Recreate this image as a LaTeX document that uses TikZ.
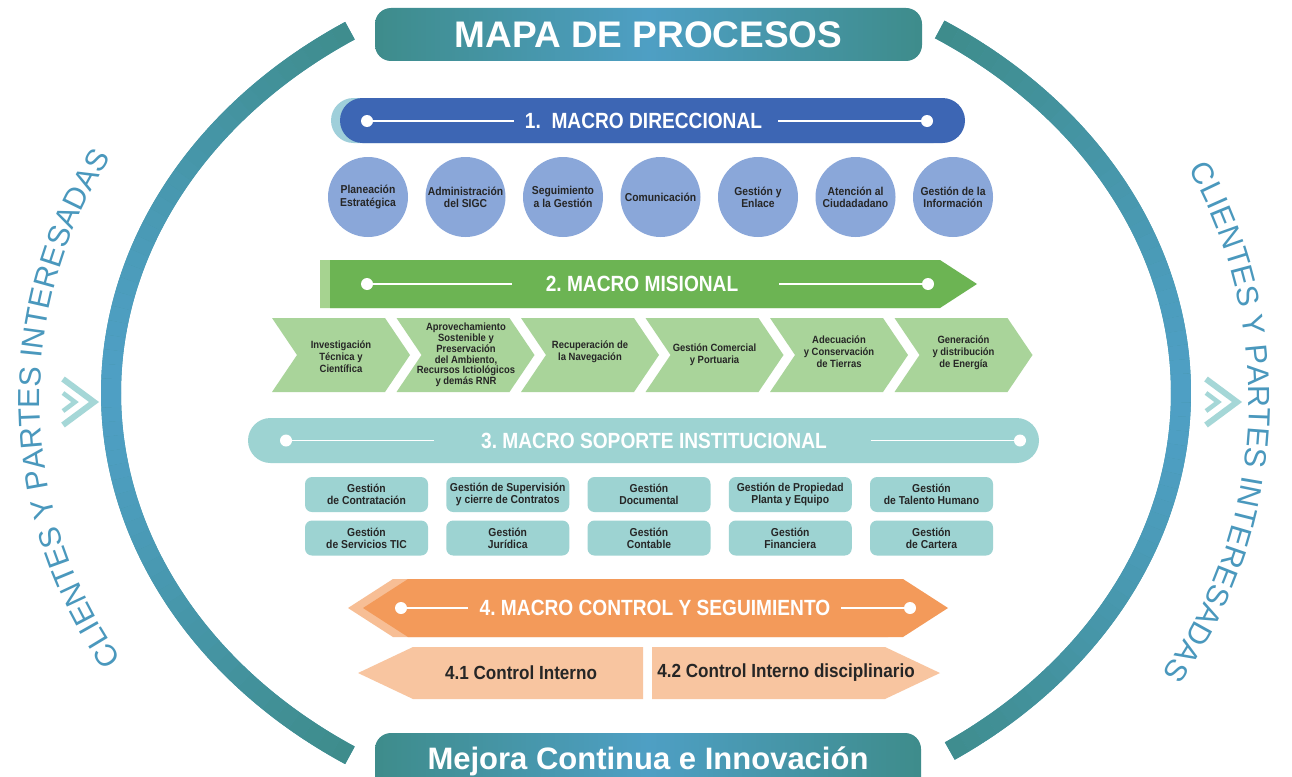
\documentclass[tikz,border=0pt]{standalone}
\usepackage{fontspec}
\setmainfont{Liberation Sans}
\newfontfamily\cond{Liberation Sans}[FakeStretch=0.9]
\newfontfamily\condb{Liberation Sans}[FakeStretch=0.87]
\usetikzlibrary{decorations.text,shapes.misc}
\definecolor{tealD}{HTML}{3E8C8B}
\definecolor{blueM}{HTML}{4E9FC4}
\definecolor{sidecol}{HTML}{4A98BD}
\definecolor{mOneBlue}{HTML}{3D66B4}
\definecolor{mOneLight}{HTML}{9FCFDA}
\definecolor{circ}{HTML}{8AA7D9}
\definecolor{mTwoGreen}{HTML}{6CB453}
\definecolor{mTwoLight}{HTML}{A6D390}
\definecolor{chev}{HTML}{A9D49A}
\definecolor{mThree}{HTML}{9DD3D2}
\definecolor{mFour}{HTML}{F39A5A}
\definecolor{mFourLight}{HTML}{F7BE95}
\definecolor{peach}{HTML}{F8C5A0}
\definecolor{symc}{HTML}{A5D7D7}
\definecolor{ink}{HTML}{262626}
\begin{document}
\begin{tikzpicture}[x=1pt,y=-1pt,
  bigbox/.style={rounded corners=16pt, left color=tealD, right color=tealD, middle color=blueM,
     text=white, inner sep=0pt},
  bartext/.style={font=\condb\bfseries\frenchspacing\fontsize{22}{24}\selectfont, text=white, inner sep=0pt},
  wdot/.style={circle, fill=white, minimum size=12pt, inner sep=0pt},
  wline/.style={white, line width=1.8pt},
  proc/.style={circle, fill=circ, minimum size=80pt, inner sep=0pt, align=center, text=ink,
     font=\cond\bfseries\fontsize{11.5}{12.3}\selectfont},
  chevtext/.style={align=center, text=ink, inner sep=0pt, font=\cond\bfseries\fontsize{10.5}{12}\selectfont},
  supbox/.style={rectangle, rounded corners=7pt, fill=mThree, minimum width=123pt, minimum height=35pt,
     inner sep=0pt, align=center, text=ink, font=\cond\bfseries\fontsize{11.5}{12}\selectfont},
  ctrltext/.style={text=ink, inner sep=0pt, font=\cond\bfseries\fontsize{19}{21}\selectfont},
  symline/.style={symc, line width=6pt, miter limit=10},
  sidetext/.style={decorate, decoration={text along path, text align=center,
     text={|\fontsize{30.5}{31}\selectfont\color{sidecol}|CLIENTES Y PARTES INTERESADAS}}}
]
\useasboundingbox (0,0) rectangle (1292,776);
\fill[white] (0,0) rectangle (1292,776);

% ---------- big arcs ----------
\draw[line width=20pt, draw=tealD!50!blueM] (646,393) ++(123.6:535 and 435) arc[start angle=123.6, end angle=236.4, x radius=535, y radius=435];
\foreach \i in {0,...,59} {
  \pgfmathsetmacro\a{123.6+\i*1.88}
  \pgfmathtruncatemacro\f{100*min(1,(abs(sin(\a))/0.84)^1.6)}
  \draw[line width=20pt, draw=tealD!\f!blueM] (646,393) ++(\a:535 and 435) arc[start angle=\a, end angle=\a+1.88, x radius=535, y radius=435];
}
\draw[line width=20pt, draw=tealD!50!blueM] (646,393) ++(-56.7:535 and 435) arc[start angle=-56.7, end angle=55.4, x radius=535, y radius=435];
\foreach \i in {0,...,59} {
  \pgfmathsetmacro\a{-56.7+\i*1.8683}
  \pgfmathtruncatemacro\f{100*min(1,(abs(sin(\a))/0.84)^1.6)}
  \draw[line width=20pt, draw=tealD!\f!blueM] (646,393) ++(\a:535 and 435) arc[start angle=\a, end angle=\a+1.8683, x radius=535, y radius=435];
}

% ---------- side texts ----------
\path[sidetext] (491,400) ++(143.5:451) arc[start angle=143.5, end angle=214, radius=451];
\path[sidetext] (776,400) ++(-30:473) arc[start angle=-30, end angle=36, radius=473];

% ---------- side chevron symbols ----------
\draw[symline] (63,379) -- (94,402) -- (63,425);
\draw[symline, line width=4.5pt] (63,393) -- (75,402) -- (63,411);
\draw[symline] (1206,379) -- (1237,402) -- (1206,425);
\draw[symline, line width=4.5pt] (1206,393) -- (1218,402) -- (1206,411);

% ---------- title and bottom ----------
\node[bigbox, minimum width=547pt, minimum height=53pt,
      font=\bfseries\fontsize{37}{40}\selectfont] (title) at (648.5,34.5) {MAPA DE PROCESOS};
\node[bigbox, anchor=base, minimum width=546pt, text height=36pt, text depth=26pt,
      font=\bfseries\fontsize{31}{34}\selectfont] (bottom) at (648,769) {Mejora Continua e Innovación};

% ---------- 1. MACRO DIRECCIONAL ----------
\node[rounded rectangle, fill=mOneLight, minimum width=625pt, minimum height=45pt, inner sep=0pt] (m1b) at (643.5,120.5) {};
\node[rounded rectangle, fill=mOneBlue, minimum width=625pt, minimum height=45pt, inner sep=0pt] (m1) at (652.5,120.5) {};
\node[bartext] (m1t) at (643.5,121) {1.\ \ MACRO DIRECCIONAL};
\node[wdot] (m1dl) at (367,121) {};
\node[wdot] (m1dr) at (927,121) {};
\coordinate (m1el) at (514,121);
\coordinate (m1er) at (778,121);
\draw[wline] (m1dl) -- (m1el);
\draw[wline] (m1er) -- (m1dr);

\node[proc] (c1) at (368,197) {Planeación\\Estratégica};
\node[proc] (c2) at (465.5,197) {Administración\\del SIGC};
\node[proc] (c3) at (563,197) {Seguimiento\\a la Gestión};
\node[proc] (c4) at (660.5,197) {Comunicación};
\node[proc] (c5) at (758,197) {Gestión y\\Enlace};
\node[proc] (c6) at (855.5,197) {Atención al\\Ciudadadano};
\node[proc] (c7) at (953,197) {Gestión de la\\Información};

% ---------- 2. MACRO MISIONAL ----------
\fill[mTwoLight] (320,260) -- (930,260) -- (967,284) -- (930,308) -- (320,308) -- cycle;
\fill[mTwoGreen] (330,260) -- (940,260) -- (977,284) -- (940,308) -- (330,308) -- cycle;
\node[bartext] (m2t) at (642,284) {2. MACRO MISIONAL};
\node[wdot] (m2dl) at (367,284) {};
\node[wdot] (m2dr) at (928,284) {};
\coordinate (m2el) at (512,284);
\coordinate (m2er) at (779,284);
\draw[wline] (m2dl) -- (m2el);
\draw[wline] (m2er) -- (m2dr);

\foreach \i in {0,...,5} {
  \pgfmathsetmacro\x{272+124.5*\i}
  \fill[chev] (\x,318) -- ++(113,0) -- ++(25,37) -- ++(-25,37) -- ++(-113,0) -- ++(25,-37) -- cycle;
}
\node[chevtext] (p1) at (341,357) {Investigación\\Técnica y\\Científica};
\node[chevtext, font=\cond\bfseries\fontsize{10.5}{10.7}\selectfont] (p2) at (466,355) {Aprovechamiento\\Sostenible y\\Preservación\\del Ambiento,\\Recursos Ictiológicos\\y demás RNR};
\node[chevtext] (p3) at (590,352) {Recuperación de\\la Navegación};
\node[chevtext] (p4) at (714.5,355) {Gestión Comercial\\y Portuaria};
\node[chevtext] (p5) at (839,352) {Adecuación\\y Conservación\\de Tierras};
\node[chevtext] (p6) at (963.5,353) {Generación\\y distribución\\de Energía};

% ---------- 3. MACRO SOPORTE INSTITUCIONAL ----------
\node[rounded rectangle, fill=mThree, minimum width=791pt, minimum height=45pt, inner sep=0pt] (m3) at (643.5,440.5) {};
\node[bartext] (m3t) at (654,440.5) {3. MACRO SOPORTE INSTITUCIONAL};
\node[wdot] (m3dl) at (286,440.5) {};
\node[wdot] (m3dr) at (1020,440.5) {};
\coordinate (m3el) at (434,440.5);
\coordinate (m3er) at (871,440.5);
\draw[wline] (m3dl) -- (m3el);
\draw[wline] (m3er) -- (m3dr);

\node[supbox] (s11) at (366.5,494.5) {Gestión\\de Contratación};
\node[supbox] (s12) at (507.75,494.5) {Gestión de Supervisión\\y cierre de Contratos};
\node[supbox] (s13) at (649,494.5) {Gestión\\Documental};
\node[supbox] (s14) at (790.25,494.5) {Gestión de Propiedad\\Planta y Equipo};
\node[supbox] (s15) at (931.5,494.5) {Gestión\\de Talento Humano};
\node[supbox] (s21) at (366.5,538) {Gestión\\de Servicios TIC};
\node[supbox] (s22) at (507.75,538) {Gestión\\Jurídica};
\node[supbox] (s23) at (649,538) {Gestión\\Contable};
\node[supbox] (s24) at (790.25,538) {Gestión\\Financiera};
\node[supbox] (s25) at (931.5,538) {Gestión\\de Cartera};

% ---------- 4. MACRO CONTROL Y SEGUIMIENTO ----------
\fill[mFourLight] (348,608) -- (393,579) -- (888,579) -- (933,608) -- (888,637) -- (393,637) -- cycle;
\fill[mFour] (363,608) -- (408,579) -- (903,579) -- (948,608) -- (903,637) -- (408,637) -- cycle;
\node[bartext] (m4t) at (655,608) {4. MACRO CONTROL Y SEGUIMIENTO};
\node[wdot] (m4dl) at (401,608) {};
\node[wdot] (m4dr) at (910,608) {};
\coordinate (m4el) at (468,608);
\coordinate (m4er) at (841,608);
\draw[wline] (m4dl) -- (m4el);
\draw[wline] (m4er) -- (m4dr);

\fill[peach] (358,673) -- (413,647) -- (643,647) -- (643,699) -- (413,699) -- cycle;
\fill[peach] (652,647) -- (885,647) -- (940,673) -- (885,699) -- (652,699) -- cycle;
\node[ctrltext] (k1) at (521,673) {4.1 Control Interno};
\node[ctrltext] (k2) at (786,673) {4.2 Control Interno disciplinario};
\end{tikzpicture}
\end{document}
